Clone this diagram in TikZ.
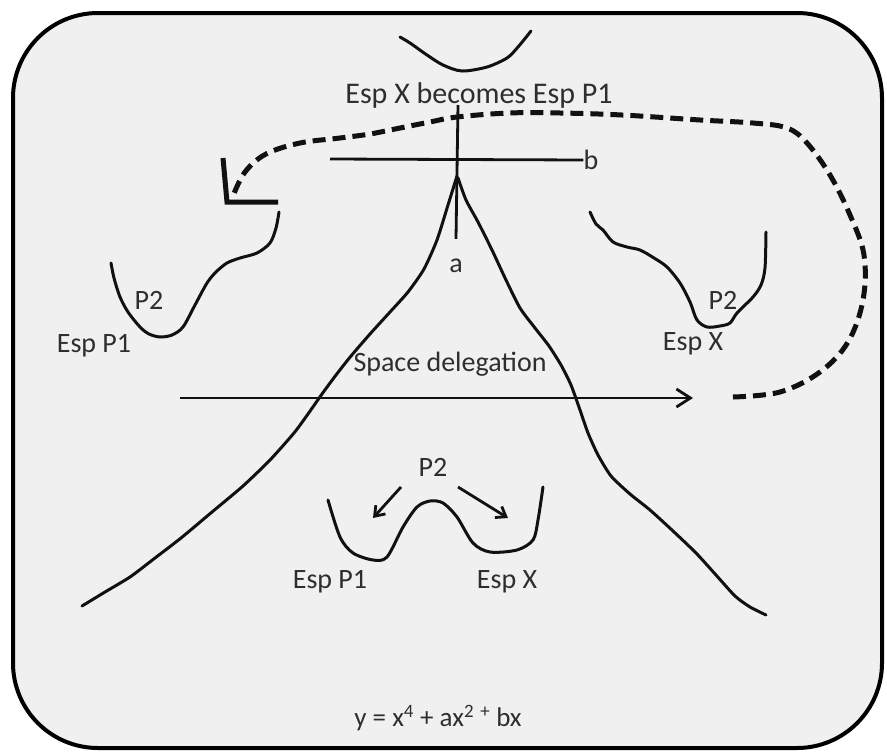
\documentclass[tikz,border=0pt]{standalone}
\usepackage{fontspec}
\setmainfont{Carlito}
\usetikzlibrary{arrows.meta}
\definecolor{paper}{HTML}{F0F0F0}
\definecolor{ink}{HTML}{111111}
\definecolor{txt}{HTML}{2E2E2E}
\tikzset{
  >={Straight Barb[length=14pt,width=18pt]},
  % kurvor
  curve/.style={draw=ink,line width=3pt,line cap=round,line join=round},
  axis/.style={draw=ink,line width=2.8pt},
  loopdash/.style={draw=ink,line width=5pt,dash pattern=on 13pt off 7pt},
  bigtip/.style={draw=ink,line width=5pt},
  small/.style={->,draw=ink,line width=2.8pt,>={Straight Barb[length=9pt,width=13pt]}},
  % text
  lbl/.style={font=\fontsize{28}{30}\selectfont,text=txt,inner sep=0pt},
  eq/.style={font=\fontsize{27}{30}\selectfont,text=txt,inner sep=0pt},
}
\begin{document}
\begin{tikzpicture}[x=1pt,y=-1pt]
  \useasboundingbox (0,0) rectangle (887,753);
  \fill[white] (0,0) rectangle (887,753);
  \draw[fill=paper,line width=4pt,rounded corners=85pt] (13,13) rectangle (882,748);

  % labels
  \node[lbl,font=\fontsize{30}{32}\selectfont] (title) at (479,95) {Esp X becomes Esp P1};
  \node[lbl] (b) at (591,160) {b};
  \node[lbl] (a) at (456,266) {a};
  \node[lbl] (lp2) at (149,300) {P2};
  \node[lbl] (lesp) at (94,346) {Esp P1};
  \node[lbl] (rp2) at (723,300) {P2};
  \node[lbl] (resp) at (693,344) {Esp X};
  \node[lbl] (deleg) at (450,364) {Space delegation};
  \node[lbl] (mp2) at (433,467) {P2};
  \node[lbl] (mesp1) at (330,582) {Esp P1};
  \node[lbl] (mespx) at (507,582) {Esp X};
  \node[eq] (formula) at (438,718) {y = x\textsuperscript{4} + ax\textsuperscript{2} \textsuperscript{+} bx};

  % top well
  \draw[curve] plot[smooth] coordinates {(400,37) (410,43) (427,55) (443,65) (462,71)
    (487,67) (507,58) (518,47) (531,31)};

  % axes
  \coordinate (atop) at (458,105);
  \coordinate (aleft) at (330,159);
  \draw[axis] (atop) -- ([yshift=20pt]a.north);
  \draw[axis] (aleft) -- (b.west);

  % the mountain
  \draw[curve] plot[smooth,tension=0.4] coordinates {(457,176) (448,205) (437,240) (424,269)
    (408,292) (390,312) (370,334) (351,356) (336,375) (322,394) (308,414) (294,433)
    (270,460) (243,486) (212,512) (181,538) (155,558) (130,577) (105,592) (82,606)};
  \draw[curve] plot[smooth,tension=0.4] coordinates {(458,178) (466,200) (478,222) (492,250)
    (506,280) (520,308) (535,328) (549,346) (561,365) (571,385) (580,410) (588,433)
    (598,455) (611,476) (630,494) (650,510) (673,531) (696,553) (716,575) (735,596)
    (750,607) (766,615)};

  % left well
  \draw[curve] plot[smooth,tension=0.5] coordinates {(279,212) (276,228) (270,243) (257,253)
    (240,258) (227,263) (216,272) (207,283) (195,305) (183,327) (172,335) (160,337)
    (149,334) (140,327) (128,312) (120,297) (114,278) (111,263)};

  % right well
  \draw[curve] plot[smooth,tension=0.5] coordinates {(590,212) (596,224) (603,230) (613,242)
    (627,247) (640,250) (654,258) (667,267) (680,283) (690,302) (697,320) (707,327)
    (720,326) (730,323) (737,313) (753,297) (761,285) (765,268) (766,232)};

  % double well
  \draw[curve] plot[smooth,tension=0.5] coordinates {(328,500) (340,537) (353,553) (373,560)
    (387,557) (403,527) (417,507) (430,501) (443,503) (457,517) (473,543) (490,552)
    (517,550) (533,540) (538,520) (543,487)};
  \coordinate (gl) at (401,487);
  \coordinate (gr) at (458,487);
  \coordinate (wl) at (373,518);
  \coordinate (wr) at (508,518);
  \draw[small] (gl) -- (wl);
  \draw[small] (gr) -- (wr);

  % delegation arrow
  \coordinate (ds) at (180,398);
  \coordinate (de) at (693,398);
  \draw[axis,->] (ds) -- (de);

  % dashed return
  \coordinate (tip) at (227,202);
  \draw[loopdash] plot[smooth,tension=0.6] coordinates {(733,397) (780,392) (820,372) (848,342)
    (863,300) (864,255) (850,215) (830,175) (807,143) (787,128) (753,123) (700,120)
    (622,115) (560,113) (509,113) (457,117) (430,122) (400,128) (370,134) (340,138)
    (300,143) (266,154) (245,172) (233,196)};
  \draw[bigtip] (223,158) -- (tip) -- (278,202);
\end{tikzpicture}
\end{document}
